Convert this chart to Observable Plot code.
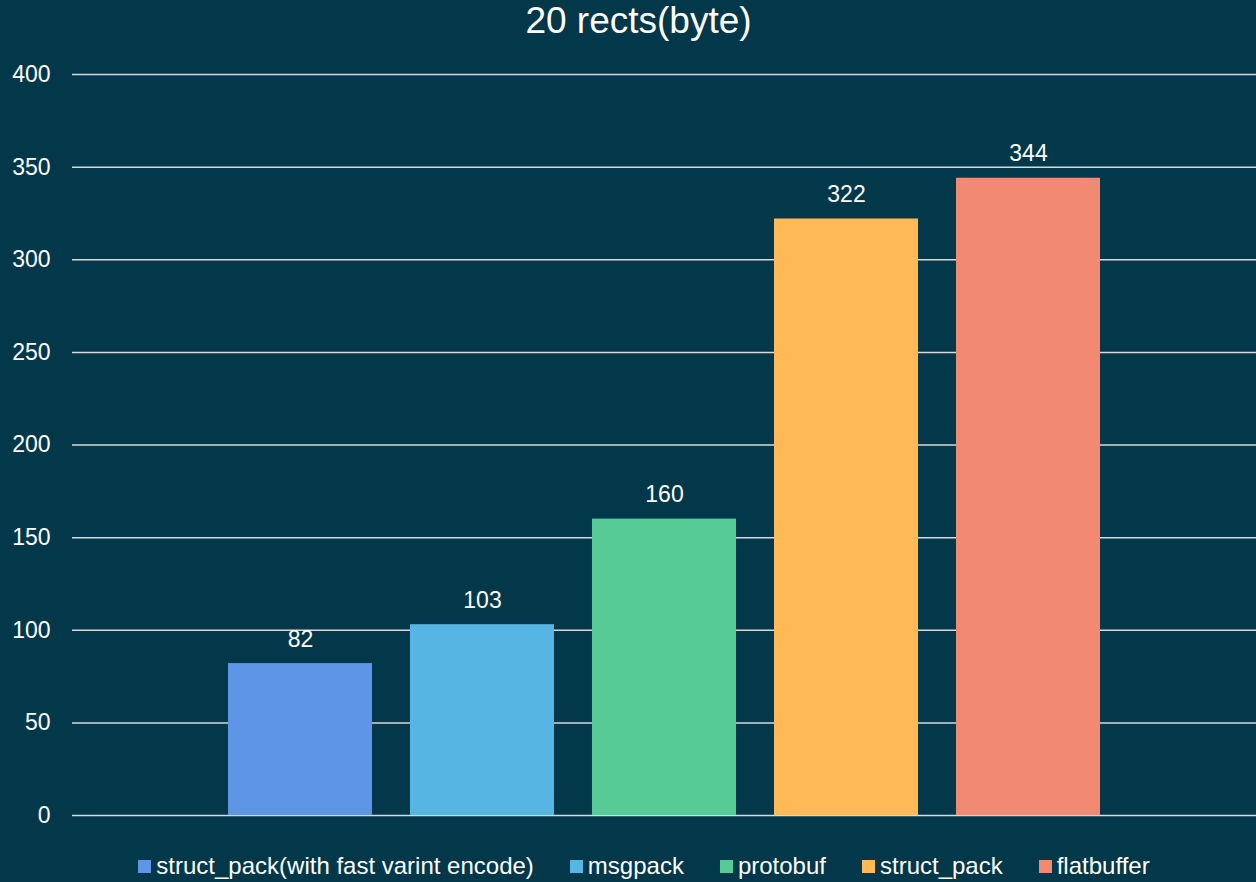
<!DOCTYPE html>
<html>
<head>
<meta charset="utf-8">
<script src="https://cdn.jsdelivr.net/npm/d3@7"></script>
<script src="https://cdn.jsdelivr.net/npm/@observablehq/plot@0.6"></script>
<style>
  html, body { margin: 0; padding: 0; background: #03374A; }
  body { width: 1256px; height: 882px; overflow: hidden; font-family: "Liberation Sans", Arial, sans-serif; color: #ffffff; }
  #title { height: 44px; line-height: 42px; text-align: center; font-size: 37px; padding-left: 21px; }
  #legend { display: flex; justify-content: center; font-size: 24px; height: 44px; align-items: center; padding-left: 32px; }
  .item { display: flex; align-items: center; margin: 0 18px; }
  .sw { width: 13px; height: 13px; margin-right: 5px; }
</style>
</head>
<body>
<div id="title">20 rects(byte)</div>
<div id="chart"></div>
<div id="legend"></div>
<script>
// Serialized size of 20 rects, in bytes, per library
const libraries = ["struct_pack(with fast varint encode)", "msgpack", "protobuf", "struct_pack", "flatbuffer"];
const sizes = [82, 103, 160, 322, 344];
const colors = ["#5F95E7", "#57B5E3", "#56CB95", "#FFB957", "#F28A73"];
const yTicks = [0, 50, 100, 150, 200, 250, 300, 350, 400];

const data = libraries.map((name, i) => ({name, size: sizes[i]}));

const chart = Plot.plot({
  width: 1256,
  height: 800,
  marginTop: 30,
  marginBottom: 29,
  marginLeft: 72,
  marginRight: 0,
  style: {background: "transparent", color: "#ffffff", fontFamily: "Liberation Sans, Arial, sans-serif", fontSize: "24px"},
  x: {domain: libraries, paddingInner: 0.209, paddingOuter: 0.857, axis: null},
  y: {domain: [0, 400], ticks: yTicks, label: null},
  color: {domain: libraries, range: colors},
  marks: [
    Plot.gridY(yTicks, {stroke: "#d9d9d9", strokeOpacity: 1, strokeWidth: 1.5}),
    Plot.axisY(yTicks, {tickSize: 0, tickPadding: 22, fontSize: 23, fill: "#ffffff", label: null}),
    Plot.barY(data, {x: "name", y: "size", fill: "name"}),
    Plot.text(data, {x: "name", y: "size", text: d => String(d.size), lineAnchor: "bottom", dy: -17, fill: "#ffffff", fontSize: 23})
  ]
});
document.getElementById("chart").appendChild(chart);

const legend = document.getElementById("legend");
libraries.forEach((name, i) => {
  const item = document.createElement("div");
  item.className = "item";
  const sw = document.createElement("span");
  sw.className = "sw";
  sw.style.background = colors[i];
  const label = document.createElement("span");
  label.textContent = name;
  item.appendChild(sw);
  item.appendChild(label);
  legend.appendChild(item);
});
</script>
</body>
</html>
